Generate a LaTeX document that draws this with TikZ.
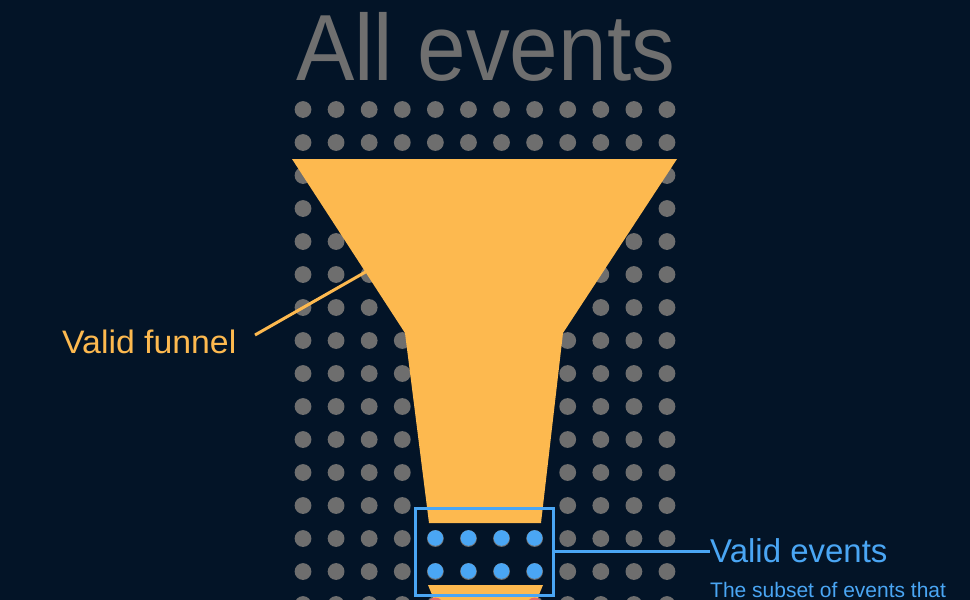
\documentclass[tikz,border=0pt]{standalone}
\usepackage{fontspec}
\setmainfont{Liberation Sans}
\newfontfamily\titlefont[FakeStretch=0.93]{Liberation Sans}
\newfontfamily\labelfont[FakeStretch=1.04]{Liberation Sans}
\definecolor{bg}{HTML}{031427}
\definecolor{dotgray}{HTML}{6E6E6E}
\definecolor{titlegray}{HTML}{6F6F6F}
\definecolor{funnelorange}{HTML}{FDB94F}
\definecolor{evblue}{HTML}{4AA6F4}
\definecolor{evred}{HTML}{E36B6B}
\tikzset{
  greydot/.style={fill=dotgray, draw=none},
  bluedot/.style={fill=evblue, draw=none},
  reddot/.style={fill=evred, draw=none},
  funnelfill/.style={fill=funnelorange, draw=none},
  lbl/.style={inner sep=0pt, anchor=base west},
  orangeline/.style={draw=funnelorange, line width=3pt},
  blueline/.style={draw=evblue, line width=3pt},
  selbox/.style={draw=evblue, line width=3pt, fill=none, minimum width=138pt, minimum height=87pt, inner sep=0pt}
}
\begin{document}
\begin{tikzpicture}[x=1pt,y=-1pt]
\fill[bg] (0,0) rectangle (970,600);
\useasboundingbox (0,0) rectangle (970,600);
% title
\node[lbl, text=titlegray, font=\titlefont\fontsize{94}{94}\selectfont] (title) at (296,80) {All events};
% grid of grey dots
\foreach \r in {0,...,15}{
  \foreach \c in {0,...,11}{
    \fill[greydot] ({303+33.09*\c},{109.5+33*\r}) circle (8.4);
  }
}
% funnel
\fill[funnelfill] (292,159) -- (677,159) -- (563,333) -- (541,523) -- (429,523) -- (405,333) -- cycle;
\fill[funnelfill] (428,585) -- (543,585) -- (536,602) -- (435,602) -- cycle;
% red dots below
\fill[reddot] ({303+33.09*4},606) circle (8.4);
\fill[reddot] ({303+33.09*7},606) circle (8.4);
% blue dots
\foreach \r in {13,14}{
  \foreach \c in {4,...,7}{
    \fill[bluedot] ({303+33.09*\c},{109+33*\r}) circle (7.8);
  }
}
% selection box
\node[selbox] (box) at (484,551.5) {};
% labels
\node[lbl, text=funnelorange, font=\labelfont\fontsize{32.5}{32.5}\selectfont] (lf) at (62,353) {Valid funnel};
\coordinate (lfstart) at (255,335);
\coordinate (fedge) at (365.5,272);
\draw[orangeline] (lfstart) -- (fedge);
\node[lbl, text=evblue, font=\fontsize{33}{33}\selectfont] (ve) at (710,562) {Valid events};
\draw[blueline] (box.east) -- (box.east -| ve.west);
\node[lbl, text=evblue, font=\fontsize{21}{21}\selectfont] (sub) at (710,597) {The subset of events that};
\end{tikzpicture}
\end{document}
